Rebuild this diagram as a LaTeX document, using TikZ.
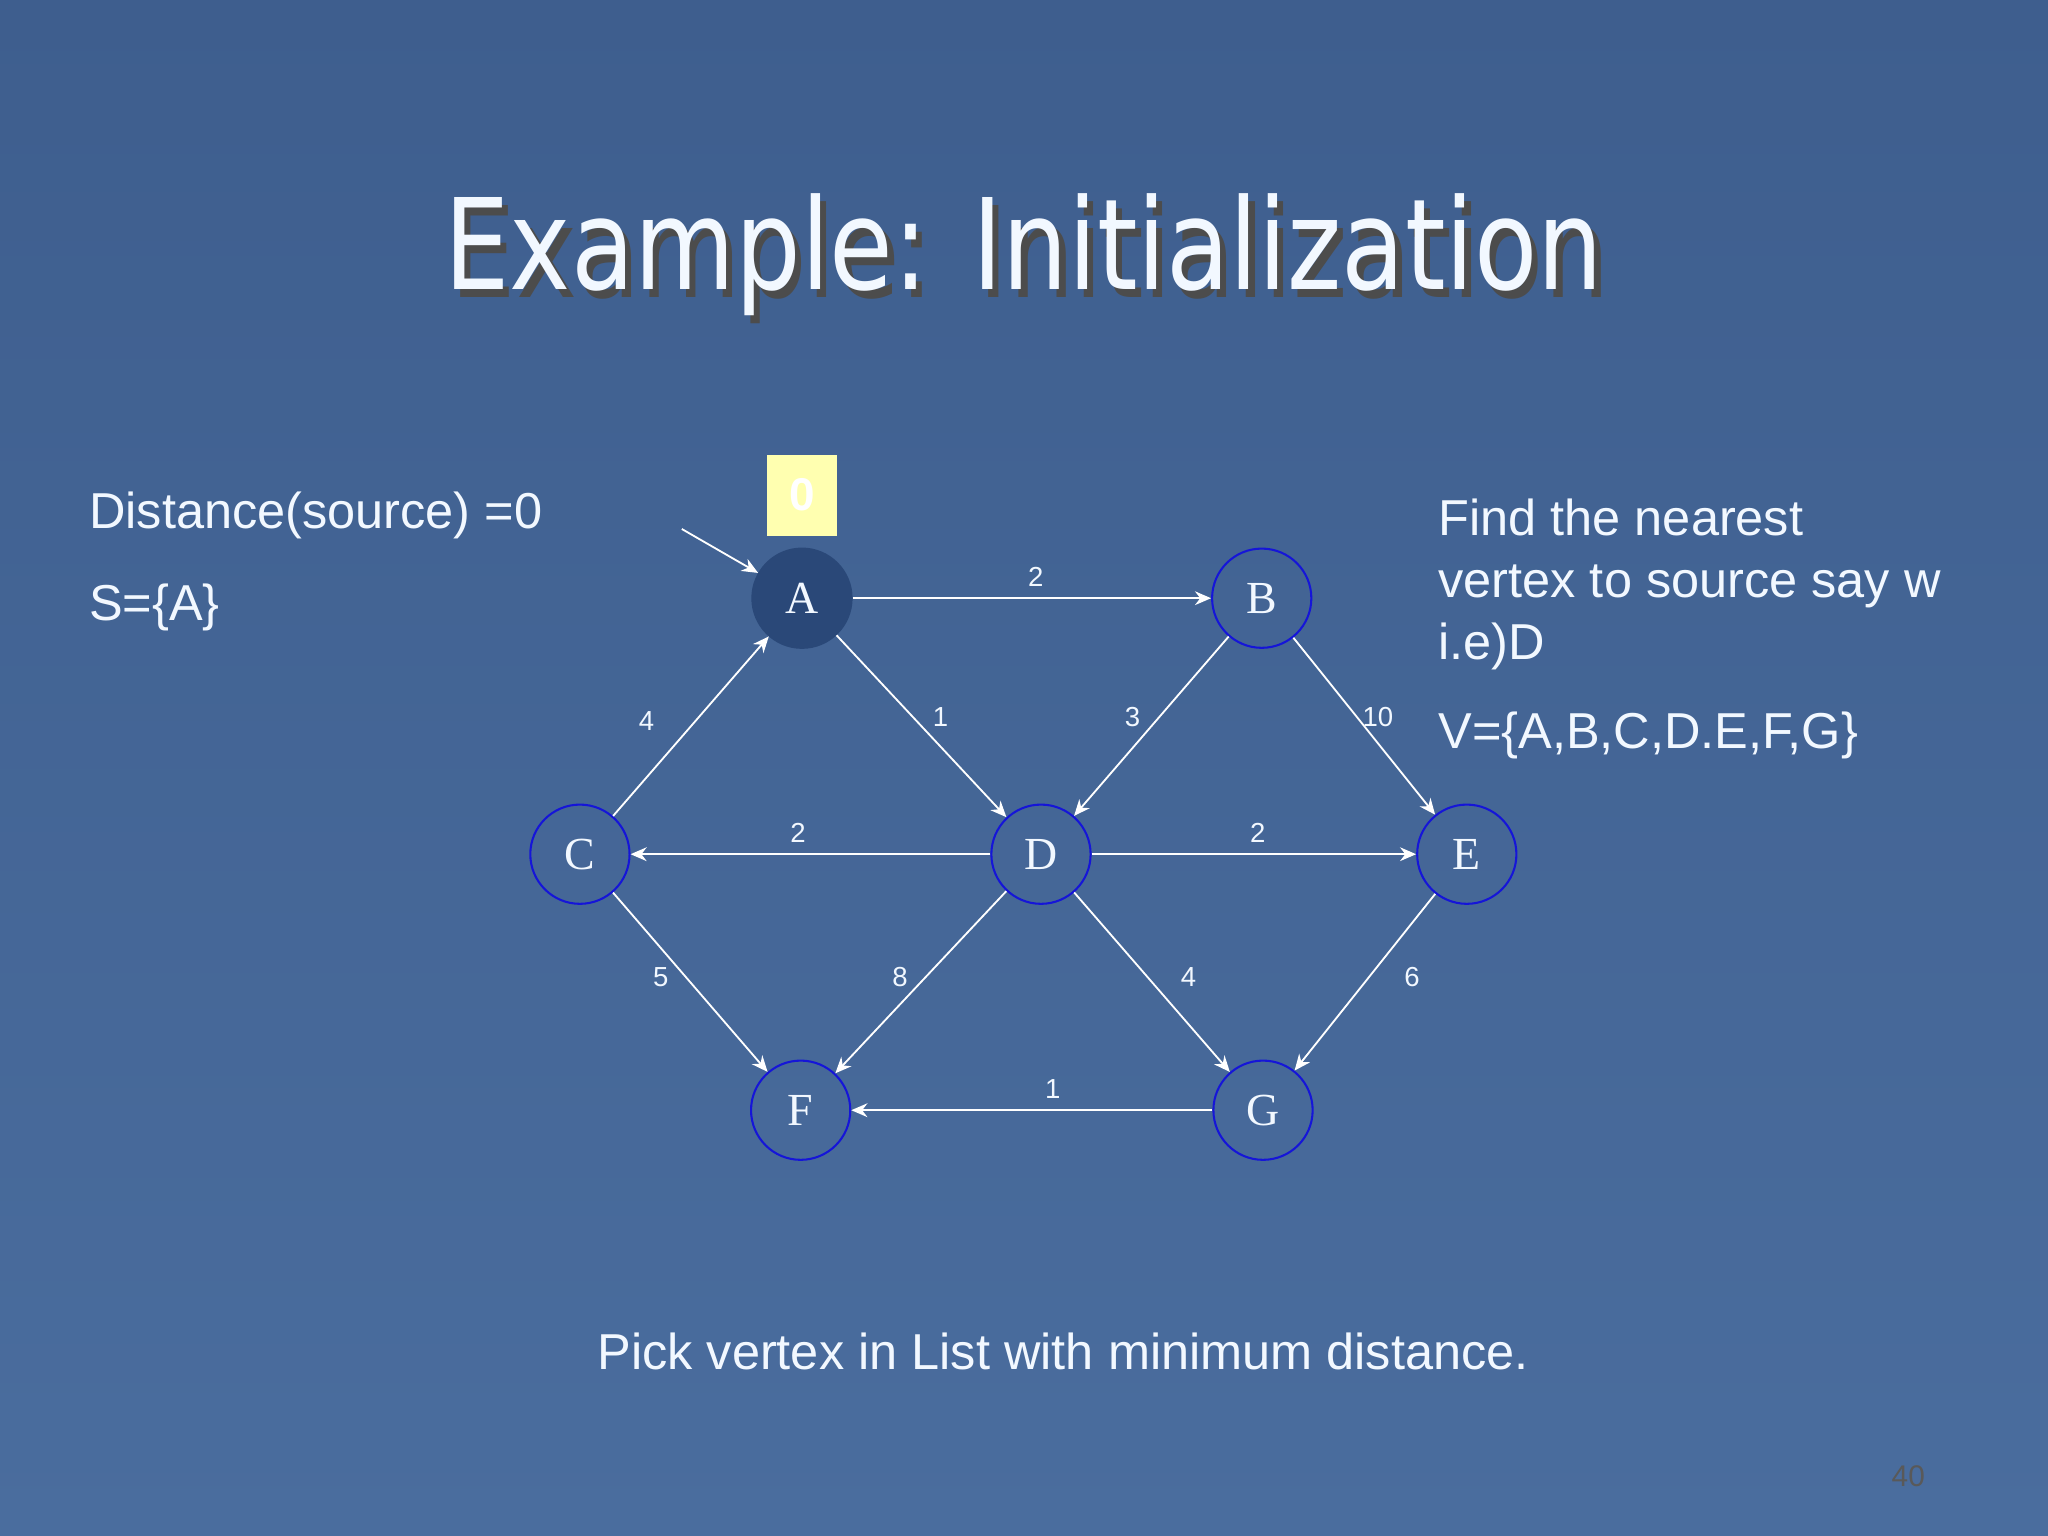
\documentclass[tikz,border=0pt]{standalone}
\usepackage{fontspec}
\setmainfont{Liberation Sans}
\newfontfamily\titlefont{DejaVu Sans}
\newfontfamily\serif{Liberation Serif}
\usetikzlibrary{arrows.meta}
\definecolor{bg}{HTML}{4A6D9E}
\definecolor{bgtop}{HTML}{3E5E8E}
\definecolor{nodeblue}{HTML}{1515D8}
\definecolor{afill}{HTML}{2A4878}
\definecolor{txt}{HTML}{F2F8FF}
\definecolor{ybox}{HTML}{FFFFB0}
\begin{document}
\begin{tikzpicture}[x=0.02cm,y=-0.02cm,
  vert/.style={circle,draw=nodeblue,line width=0.9pt,minimum size=1.52cm,inner sep=0pt,font=\serif\fontsize{20}{20}\selectfont,text=txt},
  edge/.style={draw=white,line width=0.8pt,-{Stealth[length=7pt,width=6pt]}},
  wl/.style={font=\fontsize{12}{12}\selectfont,text=txt},
  body/.style={font=\fontsize{22}{25}\selectfont,text=txt,align=left}]
\shade[top color=bgtop,bottom color=bg] (0,0) rectangle (1568,1176);
\useasboundingbox (0,0) rectangle (1568,1176);
\node[font=\titlefont\fontsize{55}{55}\selectfont,text=txt,xscale=0.82] (title) at (784,198) {\rlap{\raisebox{-0.06em}{\hspace{0.06em}\color{black!70}Example: Initialization}}Example: Initialization};
\node[vert,fill=afill,draw=afill] (A) at (614,458) {A};
\node[vert] (B) at (966,458) {B};
\node[vert] (C) at (444,654) {C};
\node[vert] (D) at (797,654) {D};
\node[vert] (E) at (1123,654) {E};
\node[vert] (F) at (613,850) {F};
\node[vert] (G) at (967,850) {G};
\node[fill=ybox,minimum width=1.06cm,minimum height=1.24cm,inner sep=0pt,text=white,font=\bfseries\fontsize{20}{20}\selectfont] (z) at (614,379) {0};
\coordinate (s) at (522,405);
\draw[edge] (s) -- (A);
\draw[edge] (A) -- (B); \node[wl] at (793,442) {2};
\draw[edge] (A) -- (D); \node[wl] at (720,549) {1};
\draw[edge] (C) -- (A); \node[wl] at (495,552) {4};
\draw[edge] (B) -- (D); \node[wl] at (867,549) {3};
\draw[edge] (B) -- (E); \node[wl] at (1055,549) {10};
\draw[edge] (D) -- (C); \node[wl] at (611,638) {2};
\draw[edge] (D) -- (E); \node[wl] at (963,638) {2};
\draw[edge] (C) -- (F); \node[wl] at (506,748) {5};
\draw[edge] (D) -- (F); \node[wl] at (689,748) {8};
\draw[edge] (D) -- (G); \node[wl] at (910,748) {4};
\draw[edge] (E) -- (G); \node[wl] at (1081,748) {6};
\draw[edge] (G) -- (F); \node[wl] at (806,834) {1};
\node[body,anchor=west,inner sep=0pt] (t1) at (68,395) {Distance(source) =0};
\node[body,anchor=west,inner sep=0pt] (t2) at (68,465) {S=\{A\}};
\node[body,anchor=north west,inner sep=0pt,font=\fontsize{22}{27}\selectfont] (t3) at (1101,382) {Find the nearest\\vertex to source say w\\i.e)D};
\node[body,anchor=west,inner sep=0pt] (t4) at (1101,563) {V=\{A,B,C,D.E,F,G\}};
\node[body] (t5) at (814,1035) {Pick vertex in List with minimum distance.};
\node[font=\fontsize{13}{13}\selectfont,text=black!65] (pn) at (1461,1130) {40};
\end{tikzpicture}
\end{document}
